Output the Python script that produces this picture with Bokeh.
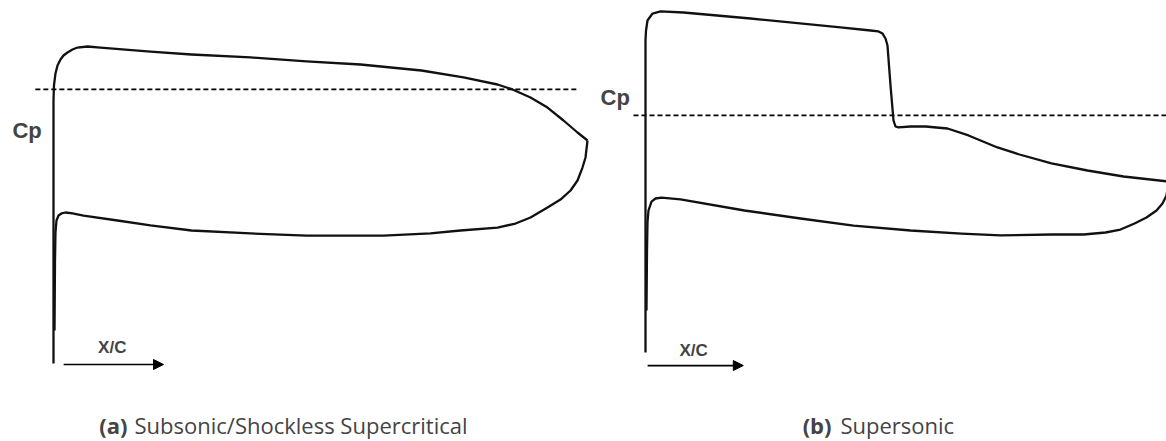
from bokeh.plotting import figure
from bokeh.models import Range1d, Label, Arrow, NormalHead
from bokeh.layouts import row
from bokeh.embed import file_html
from bokeh.resources import INLINE

# ---- (a) Subsonic / shockless supercritical: pressure distribution ----
xa_upper = [0.0, 0.0, 0.0009, 0.0037, 0.0075, 0.0131, 0.0187, 0.0262, 0.0356,
            0.0449, 0.0637, 0.088, 0.1816, 0.2584, 0.3689, 0.4738, 0.5749,
            0.6891, 0.7678, 0.8315, 0.8596, 0.8933, 0.9251, 0.9551, 0.9813, 1.0]
cpa_upper = [1.019, -0.625, -0.719, -0.794, -0.844, -0.881, -0.906, -0.925, -0.944,
             -0.956, -0.9625, -0.956, -0.931, -0.9125, -0.894, -0.869, -0.85,
             -0.8125, -0.769, -0.725, -0.694, -0.644, -0.581, -0.50, -0.425, -0.375]
xa_lower = [0.0019, 0.0028, 0.0037, 0.0056, 0.0094, 0.015, 0.0225, 0.0356, 0.0562,
            0.1199, 0.1816, 0.2584, 0.3689, 0.4738, 0.618, 0.706, 0.7622, 0.8315,
            0.8652, 0.8933, 0.9251, 0.9494, 0.9682, 0.9813, 0.9906, 0.9963, 1.0]
cpa_lower = [0.8125, 0.375, 0.20, 0.125, 0.094, 0.081, 0.075, 0.081, 0.094,
             0.125, 0.156, 0.1875, 0.206, 0.219, 0.219, 0.206, 0.1875, 0.169,
             0.144, 0.106, 0.044, -0.006, -0.0625, -0.125, -0.206, -0.269, -0.375]
cpa_critical = -0.694

# ---- (b) Supersonic: upper surface terminated by a shock ----
xb_upper = [0.0, 0.0, 0.001, 0.0038, 0.0134, 0.0287, 0.0727, 0.2008, 0.3728,
            0.4302, 0.4455, 0.4532, 0.4589, 0.4627, 0.4685, 0.4742, 0.478, 0.4837,
            0.5067, 0.5354, 0.5774, 0.6176, 0.673, 0.7151, 0.7763, 0.8451, 0.914, 1.0]
cpb_upper = [1.0125, -0.9375, -1.0, -1.0625, -1.106, -1.119, -1.1125, -1.075, -1.019,
             -1.0, -0.994, -0.981, -0.95, -0.906, -0.656, -0.4375, -0.40, -0.394,
             -0.40, -0.40, -0.3875, -0.344, -0.269, -0.225, -0.169, -0.125, -0.0875,
             -0.056]
xb_lower = [0.0019, 0.0029, 0.0038, 0.0057, 0.0115, 0.0191, 0.0306, 0.0669, 0.1893,
            0.2964, 0.3977, 0.5067, 0.6042, 0.6788, 0.7763, 0.8375, 0.8795, 0.9082,
            0.935, 0.9579, 0.9771, 0.9885, 0.9962, 1.0]
cpb_lower = [0.75, 0.375, 0.20, 0.125, 0.069, 0.05, 0.044, 0.056, 0.125,
             0.175, 0.219, 0.25, 0.269, 0.281, 0.275, 0.275, 0.2625, 0.244,
             0.206, 0.169, 0.125, 0.081, 0.031, -0.056]
cpb_critical = -0.469

CAPTION_FONT = "Open Sans"
LABEL_FONT = "Liberation Sans"
PX_PER_CP = 160


def panel(width, chord_px, x0_px, y0_px, xs_u, cp_u, xs_l, cp_l, cp_star, dash_x,
          cp_label_xy, xc_label_xy, arrow_xy, caption):
    p = figure(width=width, height=441,
               x_range=Range1d(-x0_px / chord_px, (width - x0_px) / chord_px),
               y_range=Range1d((441 - y0_px) / PX_PER_CP, -y0_px / PX_PER_CP),
               x_axis_location=None, y_axis_location=None,
               output_backend="svg", toolbar_location=None, min_border=0)
    p.grid.visible = False
    p.outline_line_color = None
    p.background_fill_color = "white"
    p.border_fill_color = "white"

    # critical pressure coefficient
    p.line(dash_x, [cp_star, cp_star], line_color="black", line_width=1.7,
           line_dash="5 3")
    # upper and lower surface pressure
    p.line(xs_u, cp_u, line_color="#111111", line_width=2.3, line_join="round")
    p.line(xs_l, cp_l, line_color="#111111", line_width=2.3, line_join="round")

    p.add_layout(Label(x=cp_label_xy[0], y=cp_label_xy[1], text="Cp",
                       text_font=LABEL_FONT, text_font_style="bold",
                       text_font_size="22px", text_baseline="middle",
                       text_align="left"))
    p.add_layout(Label(x=xc_label_xy[0], y=xc_label_xy[1], text="X/C",
                       text_font=LABEL_FONT, text_font_style="bold",
                       text_font_size="17px", text_baseline="middle",
                       text_align="center"))
    p.add_layout(Arrow(end=NormalHead(size=10, fill_color="black",
                                      line_color="black"),
                       x_start=arrow_xy[0], y_start=arrow_xy[2],
                       x_end=arrow_xy[1], y_end=arrow_xy[2],
                       line_width=1.7, line_color="black"))
    tag, rest, tag_x, rest_x, cy = caption
    p.add_layout(Label(x=tag_x, y=cy, text=tag, text_font=CAPTION_FONT,
                       text_font_style="bold", text_font_size="22px",
                       text_baseline="alphabetic", text_align="right"))
    p.add_layout(Label(x=rest_x, y=cy, text=rest, text_font=CAPTION_FONT,
                       text_font_size="22px", text_baseline="alphabetic",
                       text_align="left"))
    return p


pa = panel(600, 534, 53, 200, xa_upper, cpa_upper, xa_lower, cpa_lower, cpa_critical,
           [-0.034, 0.981], (-0.077, -0.4375), (0.11, 0.92), (0.019, 0.206, 1.025),
           ("(a)", "Subsonic/Shockless Supercritical", 0.1386, 0.1517, 1.40))
pb = panel(566, 523, 45, 190, xb_upper, cpb_upper, xb_lower, cpb_lower, cpb_critical,
           [-0.023, 1.01], (-0.086, -0.58), (0.092, 1.0), (0.004, 0.187, 1.094),
           ("(b)", "Supersonic", 0.3556, 0.3728, 1.4625))

layout = row(pa, pb)
open("out.html", "w").write(file_html(layout, INLINE))
